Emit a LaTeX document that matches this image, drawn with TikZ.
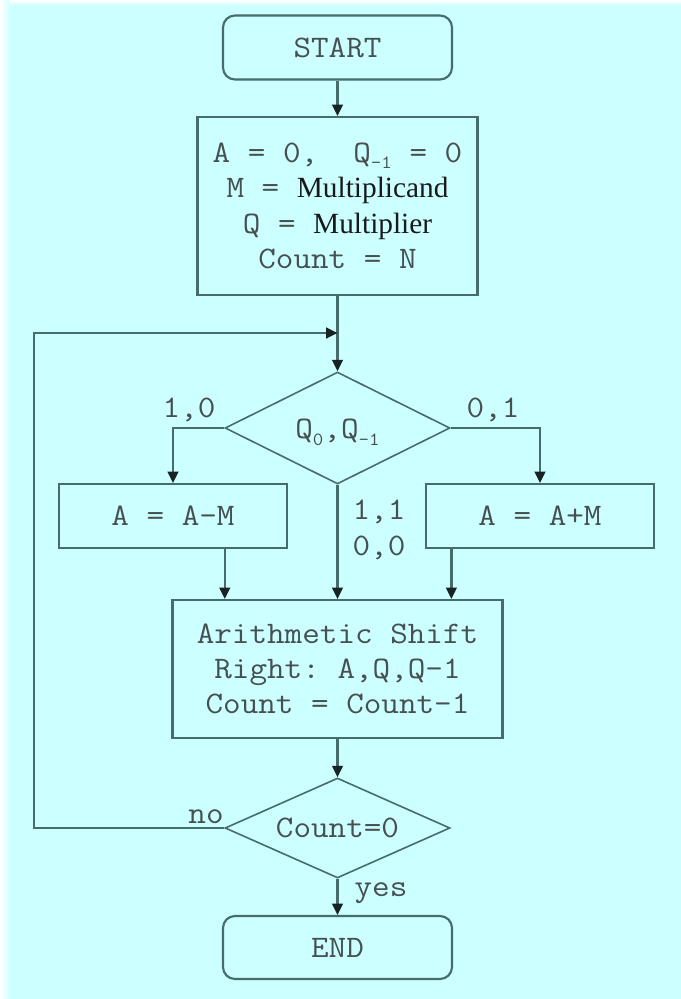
\documentclass[tikz,border=0pt]{standalone}
\usepackage{fontspec}
\setmainfont{Liberation Serif}
\setmonofont{Latin Modern Mono}[FakeStretch=1.09]
\usetikzlibrary{arrows.meta,shapes.geometric,calc}

\definecolor{bgcyan}{RGB}{204,255,255}
\definecolor{edgecol}{RGB}{70,108,108}
\definecolor{tipcol}{RGB}{25,35,35}
\definecolor{txtcol}{RGB}{70,80,80}
\definecolor{wordcol}{RGB}{25,25,25}

% lowered small index, e.g. Q_{-1}
\newcommand\lowsub[1]{\raisebox{-0.45ex}{\fontsize{14}{14}\selectfont #1}}
% serif word inside the monospaced lines
\newcommand\word[1]{{\rmfamily\fontsize{22}{26.5}\selectfont\color{wordcol}#1}}

\tikzset{
  basefont/.style={font=\ttfamily\fontsize{23.5}{26.5}\selectfont, text=txtcol},
  flowline/.style={draw=edgecol, line width=1.7pt},
  arrowline/.style={flowline, -{Triangle[length=8.5pt,width=8pt,color=tipcol]}},
  terminal/.style={basefont, draw=edgecol, line width=1.6pt, rounded corners=9pt,
    minimum width=171.75pt, minimum height=48pt, inner sep=0pt},
  procbox/.style={basefont, draw=edgecol, line width=1.6pt, align=center, inner sep=0pt},
  decision/.style={basefont, diamond, aspect=3, draw=edgecol, line width=1.2pt, inner sep=0pt,
    minimum width=168.75pt},
  lbl/.style={basefont, inner sep=0pt},
}

\begin{document}
\begin{tikzpicture}[x=0.75pt, y=-0.75pt]
  % page background
  \useasboundingbox (0,0) rectangle (681,999);
  \fill[white] (0,0) rectangle (681,999);
  \fill[bgcyan] (9,5) rectangle (681,999);
  \shade[left color=white, right color=bgcyan] (0,0) rectangle (11,999);
  \shade[top color=white, bottom color=bgcyan] (9,0) rectangle (681,6);

  % nodes
  \node[terminal] (start) at (337.5,47.5) {START};
  \node[procbox, minimum width=210pt, minimum height=133.5pt] (init) at (337.5,206)
    {A = 0,~~Q\lowsub{-1} = 0\\M = \word{Multiplicand}\\Q = \word{Multiplier}\\Count = N};
  \node[decision, minimum height=84pt, text height=18pt, text depth=1.6pt] (dec1) at (337.5,428)
    {Q\lowsub{0},Q\lowsub{-1}};
  \node[procbox, minimum width=171pt, minimum height=48pt] (amb) at (173,516) {A = A-M};
  \node[procbox, minimum width=171pt, minimum height=48pt] (apm) at (540,516) {A = A+M};
  \node[procbox, minimum width=247.5pt, minimum height=103.5pt] (shift) at (337.5,669)
    {Arithmetic Shift\\Right: A,Q,Q-1\\Count = Count-1};
  \node[decision, minimum height=75pt] (dec2) at (337.5,828) {Count=0};
  \node[terminal, minimum height=47.25pt] (end) at (337.5,947.5) {END};

  % branch labels
  \node[lbl] (l10) at (189,410) {1,0};
  \node[lbl] (l01) at (493,410) {0,1};
  \node[lbl, align=left] (l11) at (379,530) {1,1\\0,0};
  \node[lbl] (lno) at (206,817) {no};
  \node[lbl] (lyes) at (381,893) {yes};

  % connectors
  \draw[arrowline] (start) -- (init);
  \draw[arrowline] (init) -- (dec1);
  \draw[arrowline] (dec1.west) -| (amb.north);
  \draw[arrowline] (dec1.east) -| (apm.north);
  \draw[arrowline] (dec1.south) -- (shift.north);
  \coordinate (fromamb) at ($(amb.south)!0.45!(amb.south east)$);
  \coordinate (fromapm) at ($(apm.south)!0.77!(apm.south west)$);
  \draw[arrowline] (fromamb) -- (fromamb |- shift.north);
  \draw[arrowline] (fromapm) -- (fromapm |- shift.north);
  \draw[arrowline] (shift) -- (dec2);
  \draw[arrowline] (dec2.south) -- (end.north);

  % loop back to the first test
  \coordinate (loopcorner) at (34,333);
  \draw[arrowline] (dec2.west) -| (loopcorner) -- (loopcorner -| init.south);
\end{tikzpicture}
\end{document}
